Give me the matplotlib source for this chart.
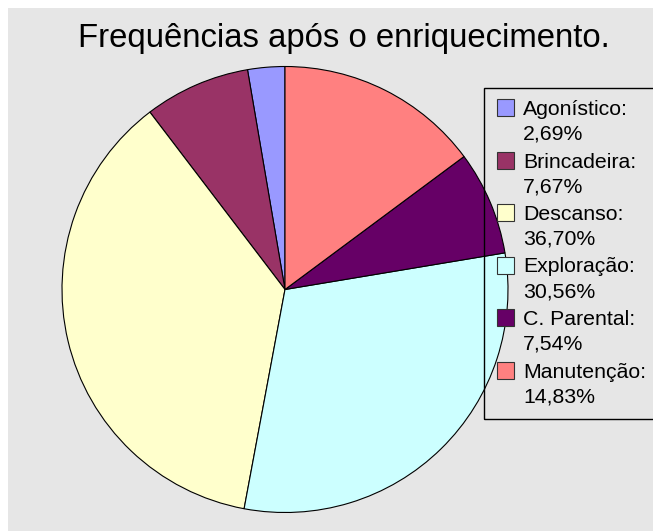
import matplotlib.pyplot as plt
from matplotlib.patches import Rectangle

categories = ['Agonístico', 'Brincadeira', 'Descanso', 'Exploração', 'C. Parental', 'Manutenção']
values = [2.69, 7.67, 36.70, 30.56, 7.54, 14.83]
colors = ['#9999FF', '#993366', '#FFFFCC', '#CCFFFF', '#660066', '#FF8080']
title = 'Frequências após o enriquecimento.'

W, H = 653, 531
plt.rcParams['font.family'] = ['Liberation Sans', 'DejaVu Sans']

fig = plt.figure(figsize=(W / 100, H / 100), dpi=100)
fig.patch.set_facecolor('white')


def px(x, y):
    # pixel coords (top-left origin) -> figure fraction
    return x / W, 1 - y / H


# grey chart area, behind everything
fig.patches.append(Rectangle(px(8, H), (W - 8) / W, (H - 8) / H,
                             transform=fig.transFigure, facecolor='#E6E6E6',
                             edgecolor='none', zorder=-5))

# pie axes: centre (285, 289.5), radius 223 px
cx, cy, r = 285, 289.5, 223
ax = fig.add_axes([(cx - r) / W, 1 - (cy + r) / H, 2 * r / W, 2 * r / H])
ax.set_facecolor('none')
ax.pie(values, colors=colors, startangle=90, counterclock=True,
       wedgeprops=dict(edgecolor='black', linewidth=0.8))
ax.set_xlim(-1, 1)
ax.set_ylim(-1, 1)
ax.set_aspect('equal')
ax.axis('off')

# title
fig.text(*px(343.5, 46.5), title, ha='center', va='baseline', fontsize=23.7)

# legend box (no fill, pie shows through)
fig.patches.append(Rectangle(px(484, 419), (W + 5 - 484) / W, (419 - 88) / H,
                             transform=fig.transFigure, facecolor='none',
                             edgecolor='black', linewidth=1.0, zorder=5))

step = 52.5
for i, (name, v, c) in enumerate(zip(categories, values, colors)):
    base = 115 + i * step
    fig.patches.append(Rectangle(px(497, base + 1), 17 / W, 17 / H,
                                 transform=fig.transFigure, facecolor=c,
                                 edgecolor='#333333', linewidth=0.8, zorder=6))
    fig.text(*px(523, base), name + ':', ha='left', va='baseline', fontsize=15.3)
    fig.text(*px(523, base + 25), f'{v:.2f}%'.replace('.', ','),
             ha='left', va='baseline', fontsize=15.3)

fig.savefig('out.png', dpi=100)
